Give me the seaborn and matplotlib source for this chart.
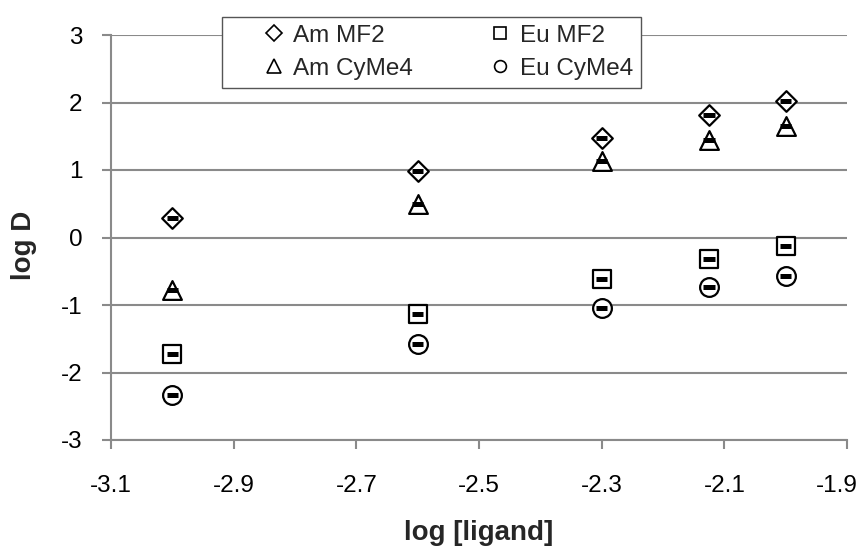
import matplotlib
matplotlib.use("Agg")
import matplotlib.pyplot as plt
import matplotlib.transforms as mtransforms
import seaborn as sns
import pandas as pd

# Distribution ratios vs ligand concentration
log_ligand = [-3.0, -2.6, -2.3, -2.125, -2.0]
am_mf2 = [0.29, 0.98, 1.48, 1.81, 2.02]
am_cyme4 = [-0.78, 0.49, 1.13, 1.45, 1.65]
eu_mf2 = [-1.72, -1.13, -0.62, -0.32, -0.13]
eu_cyme4 = [-2.33, -1.58, -1.05, -0.74, -0.57]
x_err = 0.009

x_ticks = [-3.1, -2.9, -2.7, -2.5, -2.3, -2.1, -1.9]
x_tick_labels = ["-3.1", "-2.9", "-2.7", "-2.5", "-2.3", "-2.1", "-1.9"]
y_ticks = [-3, -2, -1, 0, 1, 2, 3]
y_tick_labels = ["-3", "-2", "-1", "0", "1", "2", "3"]

# name, values, marker, plot marker size, legend marker size
series = [
    ("Am MF2", am_mf2, "D", 10.5, 8),
    ("Am CyMe4", am_cyme4, "^", 13.5, 10.5),
    ("Eu MF2", eu_mf2, "s", 13.5, 8.5),
    ("Eu CyMe4", eu_cyme4, "o", 13.5, 8.5),
]

sns.set_theme(style="white")
plt.rcParams["font.family"] = ["Liberation Sans", "DejaVu Sans"]

fig = plt.figure(figsize=(8.59, 5.46), dpi=100)
ax = fig.add_axes([111 / 859, 1 - 440 / 546, (847 - 111) / 859, (440 - 35) / 546])

handles = []
for name, vals, mk, ms, lms in series:
    df = pd.DataFrame({"x": log_ligand, "y": vals})
    sns.scatterplot(data=df, x="x", y="y", ax=ax, marker=mk, s=ms ** 2,
                    facecolor="white", edgecolor="black", linewidth=1.6,
                    zorder=3, legend=False, clip_on=False)
    ax.errorbar(df["x"], df["y"], xerr=x_err, fmt="none", ecolor="black",
                elinewidth=3.6, capsize=0, zorder=4)
    (h,) = ax.plot([], [], linestyle="none", marker=mk, markersize=lms,
                   markerfacecolor="none", markeredgecolor="black",
                   markeredgewidth=1.2)
    handles.append((h, name))

ax.set_xlim(-3.1, -1.9)
ax.set_ylim(-3, 3)
ax.set_xticks(x_ticks)
ax.set_xticklabels(x_tick_labels)
ax.set_yticks(y_ticks)
ax.set_yticklabels(y_tick_labels)

ax.yaxis.grid(True, color="#8a8a8a", linewidth=1.5)
ax.xaxis.grid(False)
ax.set_axisbelow(True)
for side in ("top", "right"):
    ax.spines[side].set_visible(False)
for side in ("left", "bottom"):
    ax.spines[side].set_color("#8a8a8a")
    ax.spines[side].set_linewidth(1.5)

ax.tick_params(axis="both", which="major", direction="out", length=6.5,
               width=1.5, color="#8a8a8a", labelsize=17.5, labelcolor="black",
               left=True, bottom=True)
ax.tick_params(axis="x", pad=18.5)
ax.tick_params(axis="y", pad=14)

# keep the last x tick label inside the figure
last = ax.get_xticklabels()[-1]
last.set_transform(last.get_transform() +
                   mtransforms.ScaledTranslation(-10 / 100, 0, fig.dpi_scale_trans))

ax.set_xlabel("log [ligand]", fontsize=20, fontweight="bold", labelpad=17)
ax.set_ylabel("log D", fontsize=20, fontweight="bold")
ax.yaxis.set_label_coords(-0.1, 0.481)

leg = fig.legend([h for h, _ in handles], [n for _, n in handles],
                 ncol=2, loc="upper left", bbox_to_anchor=(222 / 859, 1 - 17 / 546),
                 frameon=True, fancybox=False, edgecolor="#555555", framealpha=1,
                 fontsize=17.5, handlelength=3.6, handletextpad=-1.0,
                 columnspacing=1.8, borderpad=0.32, labelspacing=0.45,
                 borderaxespad=0)
leg.get_frame().set_linewidth(1.0)

fig.savefig("out.png", dpi=100)
